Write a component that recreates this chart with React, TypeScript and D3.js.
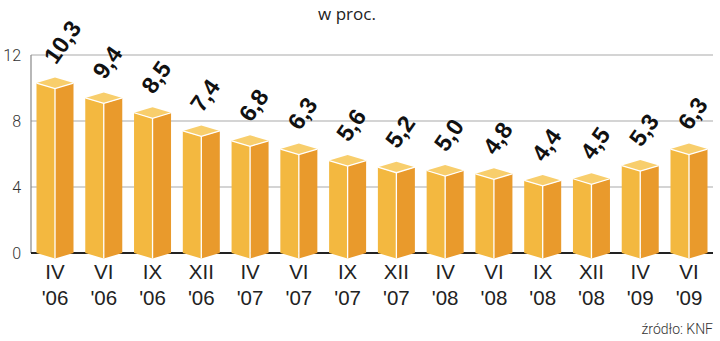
import React from "react";
import * as d3 from "d3";

const months = ["IV", "VI", "IX", "XII", "IV", "VI", "IX", "XII", "IV", "VI", "IX", "XII", "IV", "VI"];
const years = ["'06", "'06", "'06", "'06", "'07", "'07", "'07", "'07", "'08", "'08", "'08", "'08", "'09", "'09"];
const values = [10.3, 9.4, 8.5, 7.4, 6.8, 6.3, 5.6, 5.2, 5.0, 4.8, 4.4, 4.5, 5.3, 6.3];
const yTicks = [0, 4, 8, 12];
const title = "w proc.";
const source = "źródło: KNF";

export default function App() {
  const W = 720, H = 341;
  const idx = values.map((_, i) => i);
  const x = d3.scalePoint<number>().domain(idx).range([55, 689]);
  const y = d3.scaleLinear().domain([0, 12]).range([253, 55]);
  const hw = 18.5;
  const d = 5.5;
  const y0 = y(0);
  const fmt = (v: number) => d3.format(".1f")(v).replace(".", ",");

  return (
    <svg width={W} height={H} style={{ position: "absolute", left: 0, top: 0, display: "block" }}>
      <rect width={W} height={H} fill="#fff" />
      <text x={347} y={20} textAnchor="middle" fontFamily="'Open Sans', sans-serif" fontSize={17} fill="#222">{title}</text>
      {yTicks.filter(t => t > 0).map(t => (
        <line key={t} x1={31} x2={713} y1={y(t)} y2={y(t)} stroke="#aaa" strokeWidth={1.2} />
      ))}
      <line x1={31} x2={31} y1={y(12)} y2={y0} stroke="#888" strokeWidth={1.2} />
      <line x1={31} x2={713} y1={y0} y2={y0} stroke="#222" strokeWidth={1.8} />
      {yTicks.map(t => (
        <text key={t} x={21} y={y(t)} dy="0.36em" textAnchor="end" fontFamily="Roboto, sans-serif" fontWeight={300} fontSize={16} fill="#333">{t}</text>
      ))}
      {values.map((v, i) => {
        const cx = x(i)!;
        const yt = y(v);
        return (
          <g key={i}>
            <path d={`M${cx - hw},${yt} L${cx},${yt + d} L${cx},${y0 + d} L${cx - hw},${y0} Z`} fill="#F3B840" />
            <path d={`M${cx},${yt + d} L${cx + hw},${yt} L${cx + hw},${y0} L${cx},${y0 + d} Z`} fill="#E99A2C" />
            <path d={`M${cx - hw},${yt} L${cx},${yt - d} L${cx + hw},${yt} L${cx},${yt + d} Z`} fill="#F8CE6C" />
            <polyline points={`${cx - hw},${yt} ${cx},${yt + d} ${cx + hw},${yt}`} fill="none" stroke="#fff" strokeWidth={1.3} />
            <line x1={cx} x2={cx} y1={yt + d} y2={y0 + d} stroke="#fff" strokeWidth={1.3} />
            <text transform={`translate(${cx + 1},${yt - d - 12}) rotate(-55)`} fontFamily="'Liberation Sans Narrow', 'Liberation Sans', Arial, sans-serif" fontWeight={700} fontSize={23.5} fill="#111">{fmt(v)}</text>
            <text x={cx} y={279} textAnchor="middle" fontFamily="'Liberation Sans', Arial, sans-serif" fontSize={20.5} fill="#222">{months[i]}</text>
            <text x={cx} y={305} textAnchor="middle" fontFamily="'Liberation Sans', Arial, sans-serif" fontSize={20.5} fill="#222">{years[i]}</text>
          </g>
        );
      })}
      <text x={713} y={334} textAnchor="end" fontFamily="Roboto, sans-serif" fontWeight={300} fontSize={14} fill="#333">{source}</text>
    </svg>
  );
}
